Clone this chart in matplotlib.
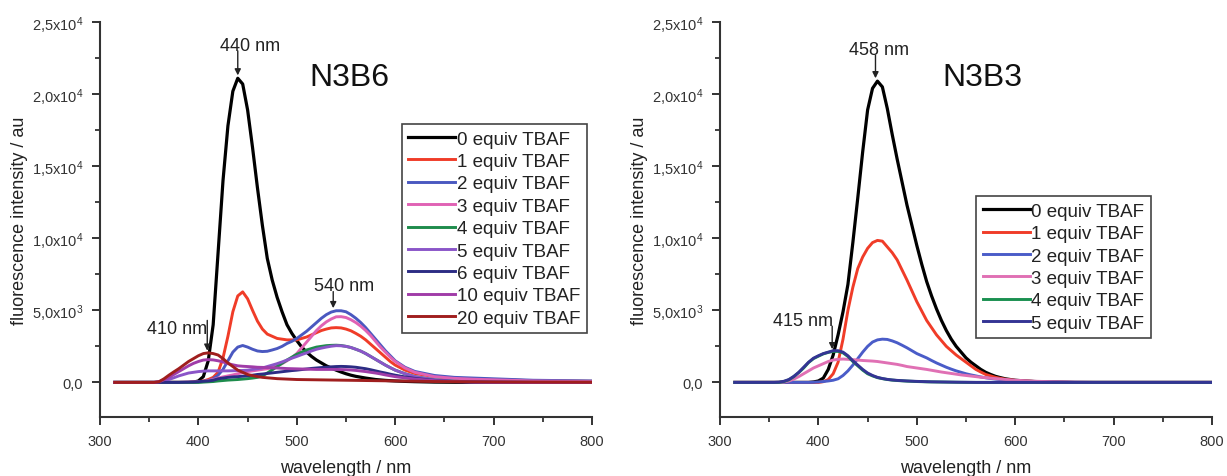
import matplotlib
matplotlib.use("Agg")
import matplotlib.pyplot as plt
from matplotlib.ticker import MultipleLocator, FuncFormatter

plt.rcParams["font.family"] = ["Liberation Sans", "DejaVu Sans"]
plt.rcParams["mathtext.default"] = "regular"

# ---- data ----
WL = [315, 330, 345, 355,
      360, 365, 370, 375, 380, 385, 390, 395,
      400, 405, 410, 415, 420, 425, 430, 435,
      440, 445, 450, 455, 460, 465, 470, 475,
      480, 485, 490, 495, 500, 505, 510, 515,
      520, 525, 530, 535, 540, 545, 550, 555,
      560, 565, 570, 575, 580, 585, 590, 595,
      600,
      610, 620, 640, 660, 680, 700, 740, 800]

# N3B6 panel
b6_0 = [0, 0, 0, 0,
        0, 0, 0, 0, 0, 0, 0, 20,
        100, 400, 1500, 4000, 9000, 14000, 17800, 20200,
        21100, 20700, 18900, 16300, 13500, 10900, 8600, 7100,
        5900, 4900, 4000, 3400, 2900, 2450, 2100, 1800,
        1550, 1350, 1150, 1000, 850, 720, 600, 500,
        420, 360, 300, 250, 200, 170, 140, 120,
        100,
        70, 50, 20, 10, 0, 0, 0, 0]
b6_1 = [0, 0, 0, 0,
        0, 0, 0, 0, 0, 0, 0, 20,
        50, 100, 200, 350, 700, 1700, 3200, 4900,
        6000, 6280, 5800, 5000, 4250, 3700, 3350, 3200,
        3050, 3000, 2950, 2950, 2950, 3050, 3150, 3300,
        3450, 3600, 3700, 3780, 3800, 3780, 3700, 3580,
        3400, 3200, 2950, 2650, 2350, 2050, 1750, 1450,
        1200,
        850, 620, 400, 300, 240, 200, 120, 80]
b6_2 = [0, 0, 0, 0,
        0, 0, 0, 0, 0, 0, 0, 10,
        30, 60, 120, 250, 500, 900, 1500, 2100,
        2450, 2560, 2450, 2300, 2180, 2140, 2160, 2250,
        2350, 2500, 2700, 2850, 3050, 3300, 3550, 3850,
        4150, 4450, 4700, 4880, 4970, 4970, 4900, 4700,
        4450, 4150, 3800, 3400, 3000, 2600, 2200, 1850,
        1500,
        1050, 760, 480, 350, 300, 250, 150, 100]
b6_3 = [0, 0, 0, 0,
        0, 0, 0, 0, 0, 10, 20, 30,
        50, 80, 130, 200, 300, 380, 450, 520,
        600, 680, 750, 800, 850, 900, 950, 1030,
        1150, 1300, 1500, 1720, 2000, 2400, 2800, 3200,
        3600, 3930, 4200, 4400, 4550, 4560, 4500, 4350,
        4150, 3900, 3600, 3250, 2850, 2450, 2100, 1750,
        1450,
        1000, 700, 400, 280, 220, 180, 100, 60]
b6_4 = [0, 0, 0, 0,
        0, 0, 0, 0, 0, 0, 0, 0,
        0, 20, 40, 60, 100, 130, 160, 180,
        200, 230, 260, 300, 350, 450, 650, 870,
        1100, 1330, 1550, 1750, 1950, 2100, 2250, 2350,
        2450, 2500, 2550, 2570, 2580, 2560, 2500, 2420,
        2300, 2170, 2000, 1800, 1600, 1400, 1200, 1020,
        850,
        600, 400, 180, 80, 30, 10, 0, 0]
b6_5 = [0, 0, 0, 0,
        30, 100, 200, 320, 450, 550, 650, 700,
        750, 780, 800, 800, 800, 800, 800, 810,
        820, 830, 850, 900, 950, 1000, 1100, 1200,
        1300, 1420, 1550, 1680, 1800, 1930, 2050, 2180,
        2300, 2380, 2450, 2510, 2550, 2540, 2500, 2420,
        2300, 2170, 2000, 1800, 1600, 1400, 1200, 1020,
        850,
        600, 400, 180, 80, 30, 10, 0, 0]
b6_6 = [0, 0, 0, 0,
        0, 0, 0, 0, 0, 10, 20, 30,
        50, 80, 100, 150, 250, 300, 350, 380,
        400, 430, 460, 500, 550, 580, 620, 660,
        700, 740, 780, 820, 850, 890, 930, 970,
        1000, 1030, 1050, 1080, 1100, 1110, 1100, 1080,
        1050, 1000, 950, 880, 800, 720, 650, 570,
        500,
        380, 280, 140, 60, 25, 10, 0, 0]
b6_10 = [0, 0, 0, 0,
         50, 180, 350, 550, 750, 950, 1150, 1320,
         1450, 1550, 1580, 1560, 1500, 1420, 1300, 1220,
         1150, 1120, 1100, 1080, 1050, 1040, 1030, 1010,
         1000, 980, 960, 950, 940, 930, 920, 910,
         900, 900, 900, 900, 900, 890, 880, 860,
         830, 790, 750, 700, 650, 590, 520, 460,
         400,
         310, 230, 120, 60, 30, 15, 0, 0]
b6_20 = [0, 0, 0, 0,
         50, 250, 500, 730, 950, 1200, 1450, 1650,
         1850, 2000, 2050, 2000, 1900, 1650, 1350, 1100,
         850, 700, 550, 470, 400, 350, 320, 290,
         260, 245, 230, 215, 200, 195, 190, 185,
         180, 175, 170, 165, 160, 155, 150, 145,
         140, 135, 130, 125, 120, 115, 110, 105,
         100,
         90, 80, 60, 50, 40, 30, 20, 10]

# N3B3 panel
b3_0 = [0, 0, 0, 0,
        0, 0, 0, 0, 0, 0, 0, 30,
        100, 300, 900, 1900, 3300, 4900, 6800, 9700,
        12800, 16000, 18900, 20400, 20900, 20500, 19000, 17200,
        15500, 13900, 12300, 10900, 9500, 8200, 7000, 6000,
        5100, 4300, 3600, 3000, 2500, 2100, 1700, 1400,
        1150, 900, 700, 550, 420, 330, 250, 200,
        150,
        100, 60, 20, 0, 0, 0, 0, 0]
b3_1 = [0, 0, 0, 0,
        0, 0, 0, 0, 0, 0, 0, 0,
        0, 50, 200, 600, 1400, 3000, 5000, 6600,
        7900, 8700, 9300, 9700, 9850, 9800, 9400, 9000,
        8500, 7800, 7100, 6350, 5600, 4950, 4300, 3800,
        3300, 2900, 2500, 2200, 1900, 1650, 1400, 1150,
        900, 720, 550, 450, 350, 280, 220, 180,
        140,
        100, 60, 20, 0, 0, 0, 0, 0]
b3_2 = [0, 0, 0, 0,
        0, 0, 0, 0, 0, 0, 0, 10,
        30, 60, 100, 150, 250, 480, 800, 1200,
        1650, 2100, 2500, 2800, 2950, 3000, 2980, 2880,
        2750, 2580, 2400, 2200, 2000, 1850, 1700, 1520,
        1350, 1200, 1050, 920, 800, 700, 600, 520,
        450, 380, 320, 270, 230, 190, 160, 130,
        110,
        80, 60, 30, 10, 0, 0, 0, 0]
b3_3 = [0, 0, 0, 0,
        0, 30, 100, 230, 400, 600, 800, 1000,
        1150, 1300, 1450, 1550, 1600, 1620, 1600, 1580,
        1550, 1520, 1500, 1480, 1450, 1400, 1350, 1300,
        1250, 1180, 1100, 1050, 1000, 950, 900, 840,
        780, 720, 670, 620, 570, 520, 480, 440,
        400, 360, 330, 290, 260, 230, 200, 170,
        150,
        110, 80, 40, 15, 0, 0, 0, 0]
b3_4 = [0, 0, 0, 0,
        0, 60, 180, 400, 680, 1000, 1380, 1650,
        1820, 1980, 2080, 2150, 2150, 2050, 1800, 1450,
        1150, 850, 600, 450, 330, 260, 200, 160,
        130, 110, 90, 75, 60, 50, 40, 35,
        30, 25, 20, 15, 10, 5, 0, 0,
        0, 0, 0, 0, 0, 0, 0, 0,
        0,
        0, 0, 0, 0, 0, 0, 0, 0]
b3_5 = [0, 0, 0, 0,
        20, 80, 200, 420, 700, 1050, 1400, 1680,
        1850, 2000, 2100, 2200, 2200, 2100, 1850, 1500,
        1200, 900, 650, 480, 350, 270, 210, 170,
        140, 120, 100, 85, 70, 60, 50, 40,
        35, 30, 25, 20, 15, 12, 10, 5,
        0, 0, 0, 0, 0, 0, 0, 0,
        0,
        0, 0, 0, 0, 0, 0, 0, 0]

LABELS_B6 = ["0 equiv TBAF", "1 equiv TBAF", "2 equiv TBAF", "3 equiv TBAF",
             "4 equiv TBAF", "5 equiv TBAF", "6 equiv TBAF", "10 equiv TBAF",
             "20 equiv TBAF"]
LABELS_B3 = LABELS_B6[:6]

COLORS_B6 = ["#000000", "#f03c28", "#4a58c0", "#e062b4", "#1e8c4c",
             "#8a55c8", "#2c2c84", "#a03ca8", "#a01e1e"]
COLORS_B3 = ["#000000", "#f03c28", "#4a5cc8", "#e070b4", "#1a9050",
             "#343494"]

# annotations: (text, text_x, text_y, arrow_x, arrow_top, arrow_tip)
ANNOT_B6 = [("440 nm", 453, 23400, 440, 23000, 21300),
            ("540 nm", 548, 6750, 537, 6300, 5150),
            ("410 nm", 378, 3750, 409, 4300, 2200)]
ANNOT_B3 = [("458 nm", 462, 23100, 458, 22700, 21100),
            ("415 nm", 384, 4300, 414, 3900, 2300)]

for s in (b6_0, b6_1, b6_2, b6_3, b6_4, b6_5, b6_6, b6_10, b6_20,
          b3_0, b3_1, b3_2, b3_3, b3_4, b3_5):
    assert len(s) == len(WL)


def ylab(v, pos):
    if v == 0:
        return "0,0"
    e = len(str(int(v))) - 1
    m = v / 10 ** e
    return ("%.1f" % m).replace(".", ",") + "x10$^{%d}$" % e


def panel(ax, series, labels, colors, title, annots, leg_anchor):
    for ys, lab, c in zip(series, labels, colors):
        ax.plot(WL, ys, color=c, lw=2.3 if c == "#000000" else 2.1,
                label=lab, solid_joinstyle="round")
    ax.set_xlim(300, 800)
    ax.set_ylim(-2400, 25000)
    for s in ("top", "right"):
        ax.spines[s].set_visible(False)
    for s in ("left", "bottom"):
        ax.spines[s].set_color("#333333")
        ax.spines[s].set_linewidth(1.5)
    ax.xaxis.set_major_locator(MultipleLocator(100))
    ax.xaxis.set_minor_locator(MultipleLocator(50))
    ax.yaxis.set_major_locator(MultipleLocator(5000))
    ax.yaxis.set_minor_locator(MultipleLocator(2500))
    ax.yaxis.set_major_formatter(FuncFormatter(ylab))
    ax.tick_params(which="major", direction="out", length=6, width=1.4,
                   color="#333333", labelsize=10.5, labelcolor="#333333",
                   pad=6)
    ax.tick_params(which="minor", direction="out", length=3.5, width=1.3,
                   color="#333333")
    ax.set_xlabel("wavelength / nm", fontsize=13, color="#222222",
                  labelpad=8)
    ax.set_ylabel("fluorescence intensity / au", fontsize=13,
                  color="#222222", labelpad=3)
    for txt, tx, ty, axx, a0, a1 in annots:
        ax.text(tx, ty, txt, ha="center", va="center", fontsize=13,
                color="#222222")
        ax.annotate("", xy=(axx, a1), xytext=(axx, a0),
                    arrowprops=dict(arrowstyle="-|>", color="#222222",
                                    lw=1.0, mutation_scale=9,
                                    shrinkA=0, shrinkB=0))
    ax.text(title[1], title[2], title[0], ha="center", va="center",
            fontsize=23, color="#111111")
    leg = ax.legend(loc="upper right", bbox_to_anchor=leg_anchor,
                    fontsize=13.5, frameon=True, fancybox=False,
                    edgecolor="#444444", framealpha=1, labelspacing=0.28,
                    handlelength=2.5, handletextpad=0.1, borderpad=0.35,
                    borderaxespad=0)
    leg.get_frame().set_linewidth(1.2)
    for t in leg.get_texts():
        t.set_color("#222222")


fig = plt.figure(figsize=(12.27, 4.77), dpi=100)
ax1 = fig.add_axes([0.0815, 0.1237, 0.401, 0.828])
ax2 = fig.add_axes([0.5868, 0.1237, 0.401, 0.828])

panel(ax1, [b6_0, b6_1, b6_2, b6_3, b6_4, b6_5, b6_6, b6_10, b6_20],
      LABELS_B6, COLORS_B6, ("N3B6", 553, 21200), ANNOT_B6, (0.99, 0.742))
panel(ax2, [b3_0, b3_1, b3_2, b3_3, b3_4, b3_5],
      LABELS_B3, COLORS_B3, ("N3B3", 567, 21200), ANNOT_B3, (0.876, 0.559))

fig.savefig("out.png", dpi=100)
